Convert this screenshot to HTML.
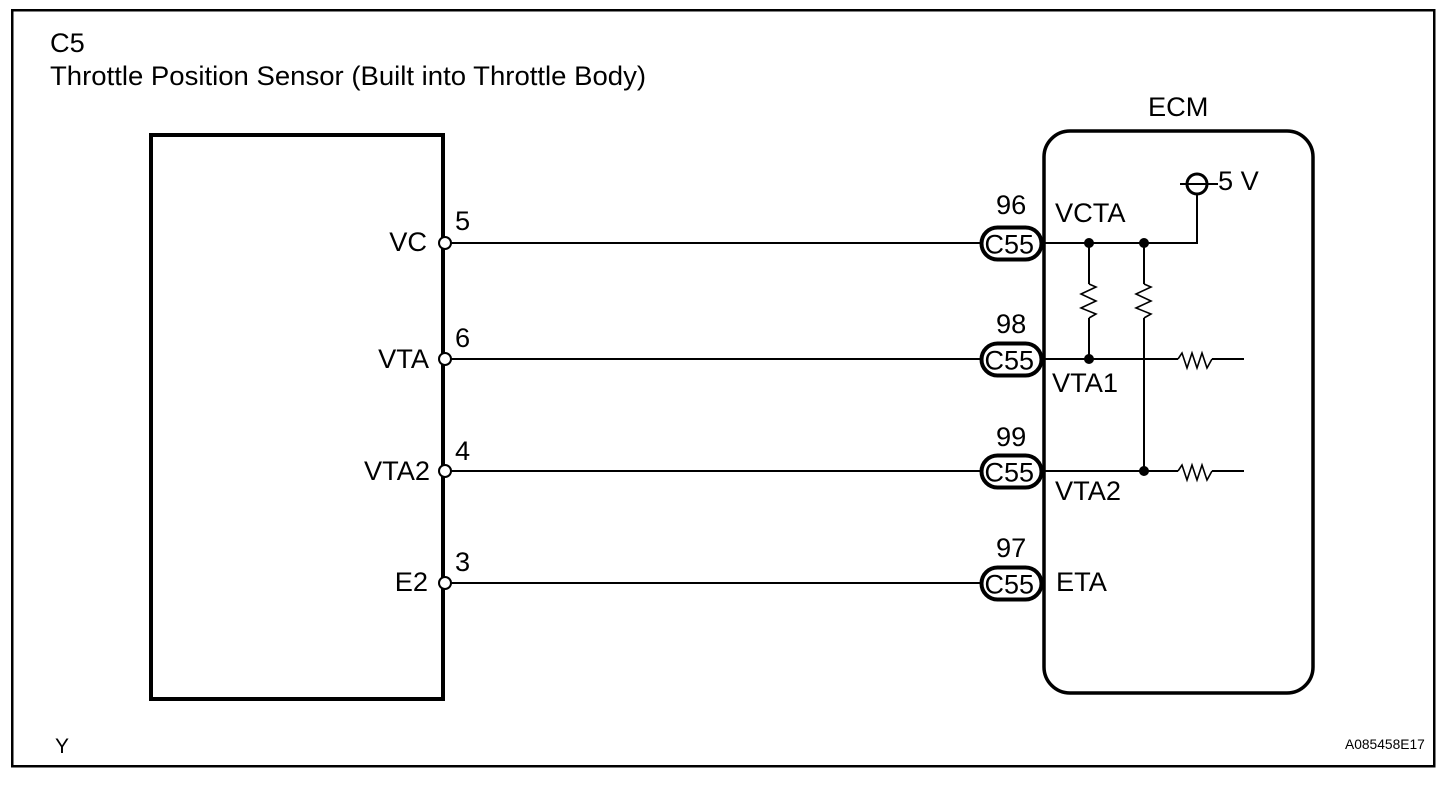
<!DOCTYPE html>
<html><head><meta charset="utf-8"><style>
html,body{margin:0;padding:0;background:#fff}
svg{display:block}
text{font-family:"Liberation Sans",sans-serif;font-size:27.2px;fill:#000}
</style></head><body>
<svg width="1456" height="788" viewBox="0 0 1456 788" xmlns="http://www.w3.org/2000/svg" shape-rendering="crispEdges">
<rect x="12" y="10" width="1422" height="756" fill="none" stroke="#000" stroke-width="2.5"/>
<text x="50" y="52">C5</text>
<text x="50" y="85" textLength="596" lengthAdjust="spacingAndGlyphs">Throttle Position Sensor (Built into Throttle Body)</text>
<text x="1148" y="116">ECM</text>
<rect x="151" y="135" width="292" height="564" fill="none" stroke="#000" stroke-width="4"/>
<rect x="1044" y="131" width="269" height="562" rx="26" ry="26" fill="none" stroke="#000" stroke-width="3.5" shape-rendering="auto"/>

<g stroke="#000" stroke-width="2" fill="none">
<path d="M445 243H980M445 359H980M445 471H980M445 583H980"/>
<path d="M1044 243H1197V194"/>
<path d="M1044 359H1178M1044 471H1178"/>
<path d="M1089 243V284M1089 318V359"/>
<path d="M1144 243V284M1144 318V471"/>
<path d="M1212 359H1244M1212 471H1244"/>
<path d="M1180 184H1218"/>
</g>
<g stroke="#000" stroke-width="1.6" fill="none" shape-rendering="auto">
<path d="M1089 284L1096 287L1081 294L1096 301L1081 308L1096 314L1089 318"/>
<path d="M1144 284L1151 287L1136 294L1151 301L1136 308L1151 314L1144 318"/>
<path d="M1178 359L1182 353L1187 368L1192 353L1197 368L1202 353L1207 368L1212 359"/>
<path d="M1178 471L1182 465L1187 480L1192 465L1197 480L1202 465L1207 480L1212 471"/>
</g>
<circle cx="1197" cy="184" r="10" fill="none" stroke="#000" stroke-width="3" shape-rendering="auto"/>
<g fill="#000" shape-rendering="auto">
<circle cx="1089" cy="243" r="5"/><circle cx="1144" cy="243" r="5"/>
<circle cx="1089" cy="359" r="5"/><circle cx="1144" cy="471" r="5"/>
</g>
<g fill="#fff" stroke="#000" stroke-width="2" shape-rendering="auto">
<circle cx="445" cy="243" r="6"/><circle cx="445" cy="359" r="6"/>
<circle cx="445" cy="471" r="6"/><circle cx="445" cy="583" r="6"/>
</g>
<g fill="#fff" stroke="#000" stroke-width="4" shape-rendering="auto">
<rect x="981.5" y="227.5" width="60" height="32" rx="16" ry="16"/>
<rect x="981.5" y="343.5" width="60" height="32" rx="16" ry="16"/>
<rect x="981.5" y="455.5" width="60" height="32" rx="16" ry="16"/>
<rect x="981.5" y="567.5" width="60" height="32" rx="16" ry="16"/>
</g>
<text x="984.5" y="253.5" style="font-size:27px">C55</text>
<text x="984.5" y="369.5" style="font-size:27px">C55</text>
<text x="984.5" y="481.5" style="font-size:27px">C55</text>
<text x="984.5" y="593.5" style="font-size:27px">C55</text>
<text x="996" y="214">96</text>
<text x="996" y="333">98</text>
<text x="996" y="446">99</text>
<text x="996" y="557">97</text>
<text x="1055" y="222">VCTA</text>
<text x="1052" y="392">VTA1</text>
<text x="1055" y="500">VTA2</text>
<text x="1056" y="591">ETA</text>
<text x="1218" y="190">5 V</text>
<text x="427" y="251" text-anchor="end">VC</text>
<text x="429" y="368" text-anchor="end">VTA</text>
<text x="430" y="480" text-anchor="end">VTA2</text>
<text x="428" y="591" text-anchor="end">E2</text>
<text x="455" y="230">5</text>
<text x="455" y="347">6</text>
<text x="455" y="460">4</text>
<text x="455" y="571">3</text>
<text x="55" y="753" style="font-size:21px">Y</text>
<text x="1345" y="749" style="font-size:13.8px">A085458E17</text>
</svg>
</body></html>
